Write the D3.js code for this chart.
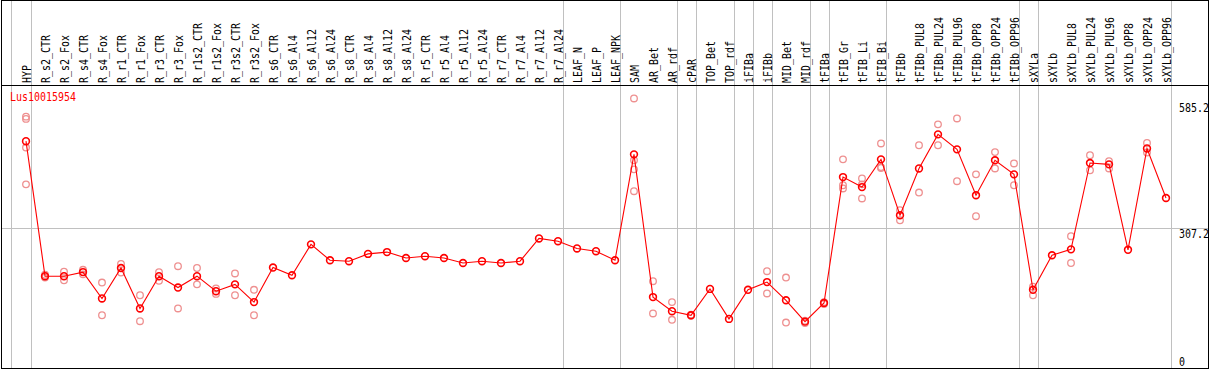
<!DOCTYPE html>
<html>
<head>
<meta charset="utf-8">
<script src="https://cdn.jsdelivr.net/npm/d3@7"></script>
<style>
  html, body { margin: 0; padding: 0; background: #fff; }
  svg { display: block; }
  text { font-family: "DejaVu Sans Mono", "Liberation Mono", monospace; font-size: 12px; }
</style>
</head>
<body>
<script>
const title = "Lus10015954";
const categories = ["HYP","R_s2_CTR","R_s2_Fox","R_s4_CTR","R_s4_Fox","R_r1_CTR","R_r1_Fox","R_r3_CTR","R_r3_Fox",
  "R_r1s2_CTR","R_r1s2_Fox","R_r3s2_CTR","R_r3s2_Fox","R_s6_CTR","R_s6_Al4","R_s6_Al12","R_s6_Al24",
  "R_s8_CTR","R_s8_Al4","R_s8_Al12","R_s8_Al24","R_r5_CTR","R_r5_Al4","R_r5_Al12","R_r5_Al24",
  "R_r7_CTR","R_r7_Al4","R_r7_Al12","R_r7_Al24","LEAF_N","LEAF_P","LEAF_NPK","SAM","AR_Bet","AR_rdf",
  "cPAR","TOP_Bet","TOP_rdf","iFIBa","iFIBb","MID_Bet","MID_rdf","tFIBa","tFIB_Gr","tFIB_Li","tFIB_Bi",
  "tFIBb","tFIBb_PUL8","tFIBb_PUL24","tFIBb_PUL96","tFIBb_OPP8","tFIBb_OPP24","tFIBb_OPP96",
  "sXYLa","sXYLb","sXYLb_PUL8","sXYLb_PUL24","sXYLb_PUL96","sXYLb_OPP8","sXYLb_OPP24","sXYLb_OPP96"];
const means = [499,202,202,211,153,220,131,202,177,202,169,184,145,221,204,272,237,235,251,255,242,246,242,231,235,
  231,235,285,279,263,257,237,470,156,125,116,174,108,172,189,149,102,143,420,398,459,
  336,439,514,481,380,457,426,172,248,261,451,448,260,483,374];
const replicates = [[553,548,485,404],[205,199],[212,193],[216,206],[188,116],[229,210],[160,103],[211,192],[224,131],
  [220,184],[175,163],[208,160],[172,116],[],[],[],[],[],[],[],[],[],[],[],[],
  [],[],[],[],[],[],[],[593,457,437,389],[191,120],[145,106],[117,115],[],[],[],[213,164],[199,100],[104,99],[145,141],
  [459,402,395],[417,404,373],[494,442,440],
  [347,325],[490,386],[536,490],[549,411],[426,334],[475,439],[450,402],
  [179,160],[],[290,231],[468,435],[455,439],[],[495,474],[]];
const groupEnds = ["HYP","R_r7_Al24","LEAF_NPK","AR_rdf","cPAR","TOP_rdf","iFIBa","iFIBb","MID_rdf","tFIBa","tFIB_Bi","tFIBb_OPP96","sXYLa","sXYLb_OPP96"];
const gridValues = [307.2];
const tickLabels = ["585.2","307.2","0"];
const tickValues = [585.2, 307.2, 0];

const W = 1209, H = 370;
const headerBottom = 85, plotBottom = 368;
const sx = 0.83; // horizontal squeeze of the narrow bitmap-like font
const svg = d3.select("body").append("svg").attr("width", W).attr("height", H);

const x = d3.scalePoint().domain(categories).range([26, 26 + 19 * (categories.length - 1)]);
const y = d3.scaleLinear().domain([0, 585.2]).range([plotBottom, 102]);

// group separators
const sepX = [x(categories[0]) - 15.5].concat(groupEnds.map(c => x(c) + 4.5));
svg.append("g").selectAll("line").data(sepX).join("line")
  .attr("x1", d => Math.round(d) + 0.5).attr("x2", d => Math.round(d) + 0.5)
  .attr("y1", 0).attr("y2", plotBottom)
  .attr("stroke", "#c0c0c0").attr("stroke-width", 1);

// horizontal grid
svg.append("g").selectAll("line").data(gridValues).join("line")
  .attr("x1", 1).attr("x2", 1208)
  .attr("y1", d => Math.round(y(d)) + 0.5).attr("y2", d => Math.round(y(d)) + 0.5)
  .attr("stroke", "#c0c0c0").attr("stroke-width", 1);

// frame
const frame = svg.append("g").attr("stroke", "#000").attr("stroke-width", 1);
frame.append("line").attr("x1", 1.5).attr("x2", 1.5).attr("y1", 0).attr("y2", plotBottom + 1);
frame.append("line").attr("x1", 1208.5).attr("x2", 1208.5).attr("y1", 0).attr("y2", plotBottom + 1);
frame.append("line").attr("x1", 1).attr("x2", 1209).attr("y1", 0.5).attr("y2", 0.5);
frame.append("line").attr("x1", 1).attr("x2", 1209).attr("y1", headerBottom + 0.5).attr("y2", headerBottom + 0.5);
frame.append("line").attr("x1", 1).attr("x2", 1209).attr("y1", plotBottom + 0.5).attr("y2", plotBottom + 0.5);

// header labels
svg.append("g").selectAll("text").data(categories).join("text")
  .attr("transform", d => `translate(${x(d) + 4.5},${headerBottom - 2}) rotate(-90) scale(${sx},1)`)
  .attr("text-anchor", "start")
  .attr("fill", "#000")
  .text(d => d);

// right axis labels
svg.append("g").selectAll("text").data(tickValues).join("text")
  .attr("transform", d => `translate(1179,${d === 0 ? plotBottom - 2 : y(d) + 9.5}) scale(${sx},1)`)
  .attr("fill", "#000")
  .text((d, i) => tickLabels[i]);

// title
svg.append("text").attr("transform", `translate(10,101) scale(${sx},1)`)
  .attr("fill", "#ff0000").text(title);

// replicates
const reps = [];
categories.forEach((c, i) => replicates[i].forEach(v => reps.push({c, v})));
svg.append("g").selectAll("circle").data(reps).join("circle")
  .attr("cx", d => x(d.c)).attr("cy", d => y(d.v)).attr("r", 3.3)
  .attr("fill", "none").attr("stroke", "#ee9090").attr("stroke-width", 1.3);

// mean line
const pts = categories.map((c, i) => ({c, v: means[i]}));
svg.append("path").datum(pts)
  .attr("d", d3.line().x(d => x(d.c)).y(d => y(d.v)))
  .attr("fill", "none").attr("stroke", "#ff0000").attr("stroke-width", 1.1);

// means
svg.append("g").selectAll("circle").data(pts).join("circle")
  .attr("cx", d => x(d.c)).attr("cy", d => y(d.v)).attr("r", 3.4)
  .attr("fill", "none").attr("stroke", "#ff0000").attr("stroke-width", 1.6);
</script>
</body>
</html>
